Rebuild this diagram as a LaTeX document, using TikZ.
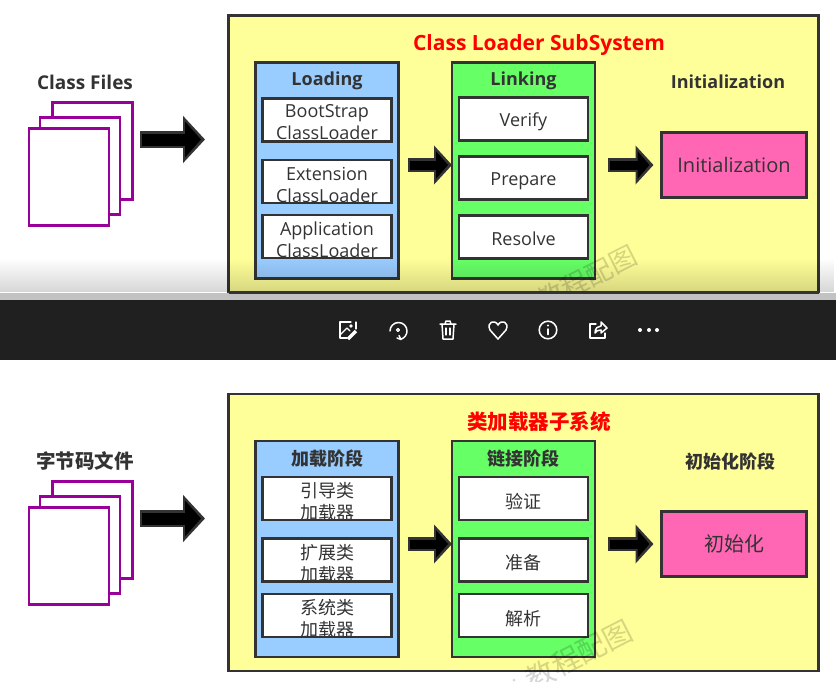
\documentclass[tikz,border=0pt]{standalone}
\usepackage{fontspec}
\setmainfont{Open Sans}
\newfontfamily\cjk{Noto Sans CJK SC}
\usetikzlibrary{positioning,arrows.meta,fadings}
\definecolor{edgegray}{HTML}{333333}
\definecolor{subyellow}{HTML}{FFFF99}
\definecolor{loadblue}{HTML}{99CCFF}
\definecolor{linkgreen}{HTML}{66FF66}
\definecolor{initpink}{HTML}{FF66B3}
\definecolor{pagepurple}{HTML}{990099}
\definecolor{barblack}{HTML}{202020}
\newcommand{\boxfont}{\fontsize{18}{22}\selectfont}
\newcommand{\headfont}{\fontsize{18}{22}\selectfont\bfseries}
\tikzfading[name=bandfade,top color=transparent!100,bottom color=transparent!0]

\begin{document}
\begin{tikzpicture}[
  x=1pt,y=-1pt,
  node distance=13pt,
  panel/.style={draw=edgegray,line width=2.8pt,outer sep=0pt,minimum width=143pt,minimum height=216pt},
  sub/.style={panel,fill=subyellow,line width=2.4pt,minimum width=590pt,minimum height=277pt},
  loadbox/.style={panel,fill=white,minimum width=129pt,minimum height=43pt},
  initbox/.style={panel,fill=initpink,minimum width=145pt,minimum height=65pt},
  page/.style={draw=pagepurple,fill=white,line width=2.8pt,outer sep=0pt,minimum width=80pt,minimum height=97pt},
  txt/.style={text=edgegray,font=\boxfont,align=center,inner sep=0pt},
  head/.style={text=edgegray,font=\headfont,inner sep=0pt},
  title/.style={text=red,font=\fontsize{21}{25}\selectfont\bfseries,inner sep=0pt},
  bottomedge/.style={draw=edgegray,line width=2.8pt,line cap=rect},
  bigarr/.style n args={2}{edgegray,line width=17pt,shorten <=#1,shorten >=#2,-{Triangle[length=22pt,width=46pt]},
    postaction={draw=black,line width=12pt,shorten <=#1+2pt,shorten >=#2+4pt,-{Triangle[length=16pt,width=35pt,fill=black]}}},
  smallarr/.style n args={2}{edgegray,line width=14pt,shorten <=#1,shorten >=#2,-{Triangle[length=18pt,width=38pt]},
    postaction={draw=black,line width=9pt,shorten <=#1+2pt,shorten >=#2+4pt,-{Triangle[length=12pt,width=27pt,fill=black]}}},
  wmark/.style={text=black,opacity=.16,rotate=27,inner sep=0pt},
  icon/.style={draw=white,line width=1.5pt,line cap=round,line join=round}]
  \useasboundingbox[fill=white] (0,0) rectangle (836,681);
  % top picture
  \node[sub] (subtop) at (523.5,154) {};
  \node[title] (subtoptitle) at (539,45) {Class Loader SubSystem};
  \node[panel,fill=loadblue] (loadtop) at (327,170.5) {};
  \node[head] (loadtophead) at (327,81) {Loading};
  \node[loadbox] (boot) at (327,120) {};
  \node[loadbox] (ext) at (327,181.5) {};
  \node[loadbox] (app) at (327,236.5) {};
  \node[txt] (boottxt) at (327,122.5) {BootStrap\\ClassLoader};
  \node[txt] (exttxt) at (327,184.5) {Extension\\ClassLoader};
  \node[txt] (apptxt) at (327,239.5) {Application\\ClassLoader};
  \foreach \n in {boot,ext,app} \draw[bottomedge] (\n.south west) -- (\n.south east);
  \node[panel,fill=linkgreen] (linktop) at (523.5,170.5) {};
  \node[head] (linktophead) at (523.5,81) {Linking};
  \node[loadbox] (verify) at (523.5,119) {};
  \node[loadbox,below=of verify,yshift=-3pt] (prepare) {};
  \node[loadbox,below=of prepare,yshift=-3pt] (resolve) {};
  \node[txt] at ([yshift=-3pt]verify) {Verify};
  \node[txt] at ([yshift=-3pt]prepare) {Prepare};
  \node[txt] at ([yshift=-2pt]resolve) {Resolve};
  \node[head] (inittophead) at (728,81.5) {Initialization};
  \node[initbox,text=edgegray,font=\fontsize{20}{24}\selectfont] (inittop) at (734,165) {Initialization};
  \node[head,font=\fontsize{19}{23}\selectfont\bfseries] (filestop) at (85,82) {Class Files};
  \node[page] (backtop) at (92.5,151) {};
  \node[page] (midtop) at (80,166) {};
  \node[page] (fronttop) at (69,177) {};
  \coordinate (outtop) at (133,139.5);
  \coordinate (intop) at (228,139.5);
  \draw[bigarr={7pt}{23pt}] (outtop) -- (intop);
  \draw[smallarr={9pt}{0pt}] (loadtop.east |- inittop) -- (linktop.west |- inittop);
  \draw[smallarr={13pt}{8pt}] (linktop.east |- inittop) -- (inittop.west);
  \node[wmark,font=\cjk\fontsize{27}{27}\selectfont] (marktop) at (587,278) {教程配图};
  % edge of the screenshot and tool bar
  \fill[black,opacity=.16,path fading=bandfade] (0,258) rectangle (836,292);
  \fill[black!24] (0,293) rectangle (836,300);
  \fill[barblack] (0,300) rectangle (836,360);
  \draw[edgegray,line width=2.4pt] (subtop.south west) -- (subtop.south east);
  \begin{scope}[shift={(348,330)}]
    \draw[icon,line width=1.3pt] (3,-8) -- (-8,-8) -- (-8,8) -- (-1,8);
    \draw[icon,line width=1.3pt] (8,-8) -- (8,-1);
    \draw[icon,line width=1.3pt] (-8,5) -- (-1,-2) -- (2,1);
    \fill[white] (3,-4) circle (1.8pt);
    \draw[white,line width=3.4pt] (0,9) -- (8,1);
  \end{scope}
  \begin{scope}[shift={(398,330)}]
    \draw[icon] (-8,1) arc[start angle=180,end angle=-70,radius=8.5pt];
    \draw[icon] (-1,8) -- (3,9.5) -- (1,5.5);
    \draw[icon,line width=1.1pt] (0,0) circle (1.5pt);
  \end{scope}
  \begin{scope}[shift={(448,330)}]
    \draw[icon] (-8,-6) -- (8,-6) (-3,-6) -- (-2,-9) -- (2,-9) -- (3,-6);
    \draw[icon] (-6,-6) -- (-5,9) -- (5,9) -- (6,-6);
    \draw[icon,line width=1.2pt] (-2,-2) -- (-2,5) (2,-2) -- (2,5);
  \end{scope}
  \begin{scope}[shift={(498,330)}]
    \draw[icon] (0,9) -- (-8,0) .. controls (-12,-8) and (-3,-11) .. (0,-5) .. controls (3,-11) and (12,-8) .. (8,0) -- cycle;
  \end{scope}
  \begin{scope}[shift={(548,330)}]
    \draw[icon] (0,0) circle (8.8pt);
    \draw[icon] (0,-1) -- (0,4.5);
    \fill[white] (0,-4.5) circle (1.1pt);
  \end{scope}
  \begin{scope}[shift={(598,330)}]
    \draw[icon,line width=1.3pt] (-2,-6) -- (-8,-6) -- (-8,8) -- (7,8) -- (7,3);
    \draw[icon] (-3,3) .. controls (-3,-2) and (0,-4) .. (3,-4) -- (3,-8) -- (9,-2) -- (3,3) -- (3,0) .. controls (0,0) and (-2,1) .. (-3,3) -- cycle;
  \end{scope}
  \foreach \dotx in {640,649,657} \fill[white] (\dotx,330) circle (2pt);
  % bottom picture
  \node[sub] (subbot) at (523.5,532.5) {};
  \node[title,font=\cjk\fontsize{20.5}{24}\selectfont\bfseries] (subbottitle) at (539,422) {类加载器子系统};
  \node[panel,fill=loadblue] (loadbot) at (327,549) {};
  \node[head,font=\cjk\headfont] (loadbothead) at (327,458.5) {加载阶段};
  \node[loadbox] (yindao) at (327,498.5) {};
  \node[loadbox] (kuozhan) at (327,560) {};
  \node[loadbox] (xitong) at (327,615.5) {};
  \node[txt,font=\cjk\boxfont] at (327,502) {引导类\\加载器};
  \node[txt,font=\cjk\boxfont] at (327,564) {扩展类\\加载器};
  \node[txt,font=\cjk\boxfont] at (327,619) {系统类\\加载器};
  \foreach \n in {yindao,kuozhan,xitong} \draw[bottomedge] (\n.south west) -- (\n.south east);
  \node[panel,fill=linkgreen] (linkbot) at (523.5,549) {};
  \node[head,font=\cjk\headfont] (linkbothead) at (523.5,458.5) {链接阶段};
  \node[loadbox] (yanzheng) at (523.5,498.5) {};
  \node[loadbox] (zhunbei) at (523.5,560) {};
  \node[loadbox] (jiexi) at (523.5,615.5) {};
  \node[txt,font=\cjk\boxfont] at ([yshift=-3pt]yanzheng) {验证};
  \node[txt,font=\cjk\boxfont] at ([yshift=-3pt]zhunbei) {准备};
  \node[txt,font=\cjk\boxfont] at ([yshift=-3pt]jiexi) {解析};
  \node[head,font=\cjk\headfont] (initbothead) at (730,462) {初始化阶段};
  \node[initbox,text=edgegray,font=\cjk\fontsize{20}{24}\selectfont] (initbot) at (734,544) {初始化};
  \node[head,font=\cjk\fontsize{19.5}{23}\selectfont\bfseries] (filesbot) at (85,461) {字节码文件};
  \node[page] (backbot) at (92.5,530) {};
  \node[page] (midbot) at (80,545) {};
  \node[page] (frontbot) at (69,556) {};
  \coordinate (outbot) at (133,518.5);
  \coordinate (inbot) at (228,518.5);
  \draw[bigarr={7pt}{23pt}] (outbot) -- (inbot);
  \draw[smallarr={9pt}{0pt}] (loadbot.east |- initbot) -- (linkbot.west |- initbot);
  \draw[smallarr={13pt}{8pt}] (linkbot.east |- initbot) -- (initbot.west);
  \begin{scope}
    \clip (0,0) rectangle (836,681);
    \node[wmark,font=\cjk\fontsize{29}{29}\selectfont] (markbot) at (579,655) {教程配图};
    \fill[black,opacity=.16] (514,680) circle (1.5pt);
  \end{scope}
\end{tikzpicture}
\end{document}
